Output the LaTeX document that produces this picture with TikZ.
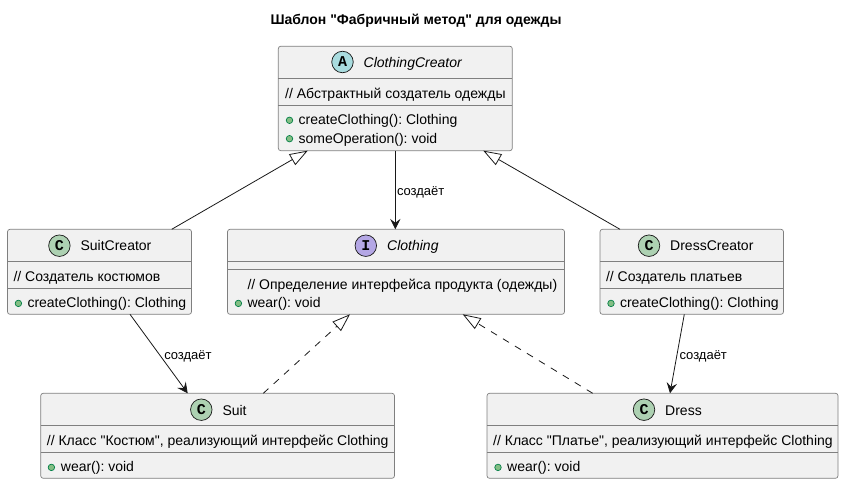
\documentclass[tikz,border=0pt]{standalone}
\usepackage{fontspec}
\newfontfamily\uifont{Liberation Sans}
\newfontfamily\glyphfont{Liberation Mono}
\usetikzlibrary{arrows.meta,calc}
\definecolor{boxfill}{HTML}{F1F1F1}
\definecolor{boxline}{HTML}{7F7F7F}
\definecolor{edgeline}{HTML}{181818}
\definecolor{cgreen}{HTML}{ADD1B2}
\definecolor{aqua}{HTML}{A9DCDF}
\definecolor{ipurple}{HTML}{B4A7E5}
\definecolor{dotfill}{HTML}{84BE84}
\definecolor{dotline}{HTML}{038048}
\AtBeginDocument{\frenchspacing}
\tikzset{
  x=1pt,y=-1pt,
  umlbox/.style={draw=boxline,fill=boxfill,line width=0.7pt,rounded corners=2.5pt,anchor=north west,inner sep=0pt,outer sep=0pt},
  sepline/.style={draw=boxline,line width=0.7pt},
  badge/.style={circle,draw=edgeline,line width=0.7pt,minimum size=21.5pt,inner sep=0pt,font=\glyphfont\bfseries\fontsize{15}{15}\selectfont},
  txt/.style={font=\uifont\fontsize{14}{16}\selectfont,text=black,inner sep=0pt,anchor=base west},
  ittxt/.style={txt,font=\uifont\itshape\fontsize{14}{16}\selectfont},
  lbl/.style={font=\uifont\fontsize{13}{15}\selectfont,text=black,inner sep=0pt,anchor=base west},
  dot/.style={circle,draw=dotline,fill=dotfill,line width=0.7pt,minimum size=6.5pt,inner sep=0pt},
  assoc/.style={draw=edgeline,line width=0.8pt,-{Stealth[length=10.5pt,width=10.5pt,inset=4pt,fill=edgeline]}},
  inherit/.style={draw=edgeline,line width=0.8pt,-{Triangle[open,length=18pt,width=12.5pt,fill=none]}},
  realize/.style={inherit,dash pattern=on 7pt off 7pt},
}
\begin{document}
\begin{tikzpicture}
\useasboundingbox (0,0) rectangle (844,484);
\node[font=\uifont\bfseries\fontsize{14}{16}\selectfont,anchor=base,inner sep=0pt] (title) at (416,25) {Шаблон "Фабричный метод" для одежды};

% ClothingCreator
\node[umlbox,minimum width=234pt,minimum height=104.5pt] (cc) at (278.3,46.2) {};
\draw[sepline] (278.3,78.3) -- (512.3,78.3) (278.3,105.3) -- (512.3,105.3);
\node[badge,fill=aqua] (ccb) at (342.5,62) {A};
\node[ittxt] (cct) at (363.5,68) {ClothingCreator};
\node[txt] (ccn) at (285,98.3) {// Абстрактный создатель одежды};
\node[dot] (ccd1) at (289.5,120.3) {};
\node[txt] (ccm1) at (298.5,124.5) {createClothing(): Clothing};
\node[dot] (ccd2) at (289.5,138.7) {};
\node[txt] (ccm2) at (298.5,143.3) {someOperation(): void};

% SuitCreator
\node[umlbox,minimum width=184pt,minimum height=85pt] (sc) at (7.5,229.3) {};
\draw[sepline] (7.5,261.7) -- (191.5,261.7) (7.5,288.7) -- (191.5,288.7);
\node[badge,fill=cgreen] (scb) at (59.4,245.7) {C};
\node[txt] (sct) at (80.4,251) {SuitCreator};
\node[txt] (scn) at (13.3,281.3) {// Создатель костюмов};
\node[dot] (scd) at (18.4,303.4) {};
\node[txt] (scm) at (27.3,307.6) {createClothing(): Clothing};

% Clothing
\node[umlbox,minimum width=337pt,minimum height=85pt] (cl) at (227.5,229.3) {};
\draw[sepline] (227.5,261.7) -- (564.5,261.7) (227.5,269.3) -- (564.5,269.3);
\node[badge,fill=ipurple] (clb) at (365.8,245.7) {I};
\node[ittxt] (clt) at (387,251) {Clothing};
\node[txt] (cln) at (247.3,289) {// Определение интерфейса продукта (одежды)};
\node[dot] (cld) at (238.4,303.4) {};
\node[txt] (clm) at (247.3,307.6) {wear(): void};

% DressCreator
\node[umlbox,minimum width=183.5pt,minimum height=85pt] (dc) at (600,229.3) {};
\draw[sepline] (600,261.7) -- (783.5,261.7) (600,288.7) -- (783.5,288.7);
\node[badge,fill=cgreen] (dcb) at (649,245.7) {C};
\node[txt] (dct) at (670,251) {DressCreator};
\node[txt] (dcn) at (605.8,281.3) {// Создатель платьев};
\node[dot] (dcd) at (611,303.4) {};
\node[txt] (dcm) at (619.8,307.6) {createClothing(): Clothing};

% Suit
\node[umlbox,minimum width=353.8pt,minimum height=85pt] (su) at (40.7,393.3) {};
\draw[sepline] (40.7,425.3) -- (394.5,425.3) (40.7,452.3) -- (394.5,452.3);
\node[badge,fill=cgreen] (sub) at (201.3,409.7) {C};
\node[txt] (sut) at (222.3,415) {Suit};
\node[txt] (sun) at (46.7,445.3) {// Класс "Костюм", реализующий интерфейс Clothing};
\node[dot] (sud) at (51.4,467.4) {};
\node[txt] (sum) at (60.7,471.6) {wear(): void};

% Dress
\node[umlbox,minimum width=351pt,minimum height=85pt] (dr) at (487,393.3) {};
\draw[sepline] (487,425.3) -- (838,425.3) (487,452.3) -- (838,452.3);
\node[badge,fill=cgreen] (drb) at (644,409.7) {C};
\node[txt] (drt) at (665,415) {Dress};
\node[txt] (drn) at (493,445.3) {// Класс "Платье", реализующий интерфейс Clothing};
\node[dot] (drd) at (498,467.4) {};
\node[txt] (drm) at (507,471.6) {wear(): void};

% connectors
\draw[inherit] ($(sc.north west)+(164.2,0)$) -- ($(cc.south west)+(29.4,0)$);
\draw[inherit] ($(dc.north west)+(20,0)$) -- ($(cc.south west)+(205,0)$);
\draw[assoc] ($(cc.south west)+(117,0)$) -- node[pos=0.5,lbl,xshift=1.3pt,yshift=-6pt] (l1) {создаёт} ($(cl.north west)+(167.8,0)$);
\draw[assoc] ($(sc.south west)+(122.5,0)$) -- node[lbl,xshift=5pt,yshift=-6pt] (l2) {создаёт} ($(su.north west)+(147,0)$);
\draw[assoc] ($(dc.south west)+(84.3,0)$) -- node[lbl,xshift=2pt,yshift=-6pt] (l3) {создаёт} ($(dr.north west)+(183,0)$);
\draw[realize] ($(su.north west)+(222.6,0)$) -- ($(cl.south west)+(122.5,0)$);
\draw[realize] ($(dr.north west)+(105.7,0)$) -- ($(cl.south west)+(235.2,0)$);
\end{tikzpicture}
\end{document}
